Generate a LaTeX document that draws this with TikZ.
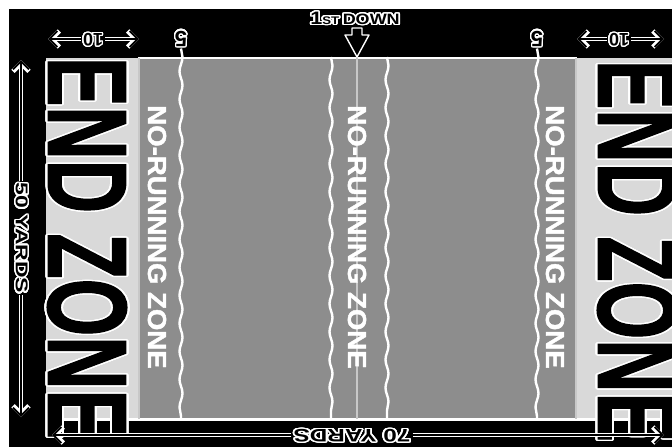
\documentclass[tikz,border=0pt]{standalone}
\usepackage{fontspec}
\setmainfont{Liberation Sans}
\newfontfamily\heavyfont[FakeBold=1.6]{Liberation Sans Bold}
\usepackage{graphicx}
\usepackage[copies]{contour}
\contournumber{32}
\usetikzlibrary{arrows.meta,decorations.pathmorphing}
\definecolor{fieldgray}{HTML}{8D8D8D}
\definecolor{zonegray}{HTML}{D9D9D9}
\definecolor{linegray}{HTML}{C8C8C8}
\newcommand{\outl}[2][1.3pt]{\contourlength{#1}\contour{white}{#2}}

\begin{document}
\begin{tikzpicture}[
  x=1pt, y=-1pt,
  zone/.style={
    rotate=-90, inner sep=0pt, text=black,
    font=\heavyfont\fontsize{112}{112}\selectfont},
  norun/.style={
    rotate=-90, inner sep=0pt, text=white,
    font=\heavyfont\fontsize{26}{26}\selectfont},
  lbl/.style={
    inner sep=2pt, text=black,
    font=\bfseries\fontsize{18}{18}\selectfont},
  wavy/.style={
    draw=white, line width=2.4pt, decorate,
    decoration={snake, segment length=28pt, amplitude=1.5pt}},
  dimw/.style={
    draw=white, line width=4.6pt,
    -{Straight Barb[length=8pt,width=16pt,line width=4.6pt]}},
  dimb/.style={
    draw=black, line width=1.8pt,
    -{Straight Barb[length=8pt,width=16pt,line width=1.8pt]}},
]
\useasboundingbox (0,0) rectangle (672,447);
\clip (0,0) rectangle (672,447);

%% FIELD
\fill[white] (0,0) rectangle (672,447);
\fill[black] (9,9) rectangle (672,447);
\fill[zonegray] (46,58) rectangle (138,419);
\fill[zonegray] (577,58) rectangle (672,419);
\fill[fieldgray] (138,58) rectangle (577,419);
\draw[white, line width=2pt] (138,58) -- (577,58);
\draw[white, line width=2.5pt] (46,419.5) -- (672,419.5);
\draw[linegray, line width=1.5pt] (139,58) -- (139,419);
\draw[linegray, line width=1.5pt] (576,58) -- (576,419);

%% LINE OF SCRIMMAGE
\coordinate (fd)  at (357,57);
\coordinate (fdb) at (357,419);
\draw[linegray, line width=1.4pt] (fd) -- (fdb);

%% LABELS
\node[lbl] (down) at (355,19)
  {\scalebox{1.2}[1]{\outl{1{\fontsize{11}{11}\selectfont ST}\,{\fontsize{15}{15}\selectfont DOWN}}}};
\node[lbl, rotate=180] (ten1)  at (93,39)  {\outl{10}};
\node[lbl, rotate=180] (ten2)  at (619,39) {\outl{10}};
\node[lbl, rotate=180, font=\bfseries\fontsize{22}{22}\selectfont] (five1) at (181,38) {\outl{5}};
\node[lbl, rotate=180, font=\bfseries\fontsize{22}{22}\selectfont] (five2) at (537,38) {\outl{5}};
\node[lbl, rotate=-90, font=\bfseries\fontsize{17}{17}\selectfont] (yd50) at (21,238)
  {\scalebox{1.35}[1]{\outl{50 YARDS}}};
\node[lbl, rotate=180] (yd70) at (352,435)
  {\scalebox{1.35}[1]{\outl{70 YARDS}}};

%% WAVY LINES
\coordinate (w1b) at (181,419);
\coordinate (w2t) at (331,57);
\coordinate (w2b) at (331,419);
\coordinate (w3t) at (387,57);
\coordinate (w3b) at (387,419);
\coordinate (w4b) at (537,419);
\draw[wavy] (five1) -- (w1b);
\draw[wavy] (w2t) -- (w2b);
\draw[wavy] (w3t) -- (w3b);
\draw[wavy] (five2) -- (w4b);

%% ZONE TEXTS
\node[zone] (ezL) at (86,248)  {\scalebox{0.66}[1]{\outl[2pt]{END ZONE}}};
\node[zone] (ezR) at (636,251) {\scalebox{0.66}[1]{\outl[2pt]{END ZONE}}};
\node[norun] (nrL) at (157,237) {\scalebox{1.06}[1]{NO-RUNNING ZONE}};
\node[norun] (nrC) at (357,237) {\scalebox{1.06}[1]{NO-RUNNING ZONE}};
\node[norun] (nrR) at (555,237) {\scalebox{1.06}[1]{NO-RUNNING ZONE}};

%% DOWN ARROW
\draw[white, fill=black, line width=1.4pt, line join=round]
  (fd) -- ++(-12,-22) -- ++(7,0) -- ++(0,-7) -- ++(10,0)
  -- ++(0,7) -- ++(7,0) -- cycle;

%% DIMENSION ARROWS
\coordinate (a50t) at (21,60);
\coordinate (a50b) at (21,417);
\coordinate (a70l) at (52,435);
\coordinate (a70r) at (664,435);
\coordinate (a10a) at (48,39);
\coordinate (a10b) at (139,39);
\coordinate (a10c) at (577,39);
\coordinate (a10d) at (664,39);
\foreach \n/\c in {yd50/a50t, yd50/a50b, yd70/a70l, yd70/a70r,
                   ten1/a10a, ten1/a10b, ten2/a10c, ten2/a10d} {
  \draw[dimw] (\n) -- (\c);
  \draw[dimb] (\n) -- (\c);
}

\end{tikzpicture}
\end{document}
